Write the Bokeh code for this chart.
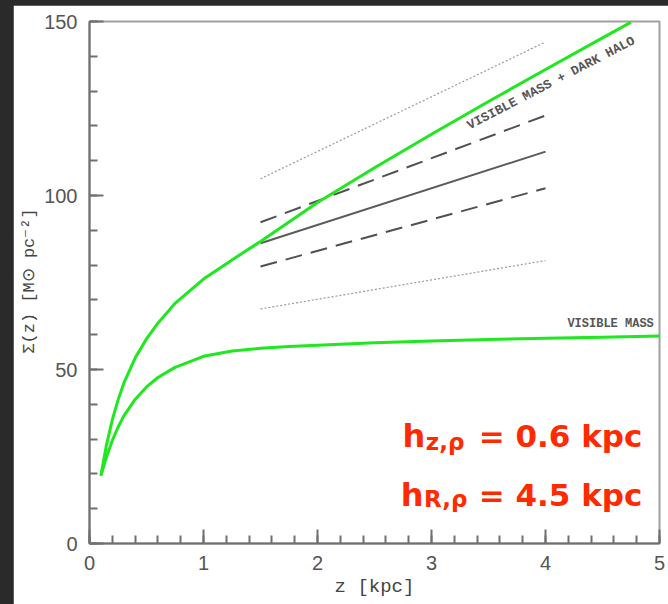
from bokeh.plotting import figure
from bokeh.models import Label, Column, SingleIntervalTicker
from bokeh.embed import file_html
from bokeh.resources import INLINE

# ---- data ----
z_vis = [0.1, 0.15, 0.2, 0.25, 0.3, 0.4, 0.5, 0.6, 0.75, 1.0, 1.25, 1.5, 1.75, 2.0, 2.5, 3.0, 3.5, 4.0, 4.5, 5.0]
sigma_vis = [19.5, 25.0, 29.6, 33.4, 36.6, 41.4, 45.0, 47.7, 50.6, 53.8, 55.3, 56.1, 56.6, 57.0, 57.7, 58.2, 58.6, 59.0, 59.3, 59.6]

z_tot = [0.1, 0.15, 0.2, 0.25, 0.3, 0.4, 0.5, 0.6, 0.75, 1.0, 1.25, 1.5, 1.75, 2.0, 2.5, 3.0, 3.5, 4.0, 4.5, 4.75]
sigma_tot = [19.5, 28.5, 35.5, 41.2, 46.0, 53.3, 58.8, 63.3, 69.0, 76.0, 81.5, 86.8, 92.4, 98.0, 108.0, 117.6, 127.0, 136.2, 145.3, 149.8]

z_fit = [1.5, 4.0]
fit_top_dotted = [104.8, 144.1]
fit_upper_dashed = [92.3, 123.0]
fit_solid = [86.3, 112.6]
fit_lower_dashed = [79.6, 102.1]
fit_bottom_dotted = [67.4, 81.3]

x_label = "z [kpc]"
y_label = "\u03a3(z) [M\u2299 pc\u207b\u00b2]"

GREEN = "#1ee81e"
RED = "#ff2a00"

p = figure(frame_width=570, frame_height=522, x_range=(0, 5), y_range=(0, 150),
           output_backend="svg", toolbar_location=None,
           min_border_left=76, min_border_right=9, min_border_top=16, min_border_bottom=61,
           margin=(5, 0, 0, 13))
p.background_fill_color = "white"
p.border_fill_color = "white"
p.outline_line_color = "#a0a0a0"
p.outline_line_width = 2
p.grid.visible = False

# fit lines
p.line(z_fit, fit_top_dotted, line_color="#9a9a9a", line_width=1.2, line_dash="2 2")
p.line(z_fit, fit_bottom_dotted, line_color="#9a9a9a", line_width=1.2, line_dash="2 2")
p.line(z_fit, fit_upper_dashed, line_color="#505050", line_width=2, line_dash="17 9")
p.line(z_fit, fit_lower_dashed, line_color="#505050", line_width=2, line_dash="17 9")
p.line(z_fit, fit_solid, line_color="#5a5a5a", line_width=2)

# curves
p.line(z_vis, sigma_vis, line_color=GREEN, line_width=3, line_join="round")
p.line(z_tot, sigma_tot, line_color=GREEN, line_width=3, line_join="round")

# axes
for ax in (p.xaxis[0], p.yaxis[0]):
    ax.axis_line_color = "#707070"
    ax.axis_line_width = 2
    ax.major_tick_line_color = "#707070"
    ax.minor_tick_line_color = "#707070"
    ax.major_tick_line_width = 2
    ax.minor_tick_line_width = 2
    ax.major_tick_in = 14
    ax.major_tick_out = 0
    ax.minor_tick_in = 8
    ax.minor_tick_out = 0
    ax.major_label_text_font = "Liberation Sans"
    ax.major_label_text_font_size = "20px"
    ax.major_label_text_color = "#555555"
    ax.major_label_standoff = 12
    ax.axis_label_text_font = "Liberation Mono"
    ax.axis_label_text_font_style = "normal"
    ax.axis_label_text_color = "#444444"

p.xaxis.ticker = SingleIntervalTicker(interval=1, num_minor_ticks=5)
p.yaxis.ticker = SingleIntervalTicker(interval=50, num_minor_ticks=5)
p.xaxis.axis_label = x_label
p.yaxis.axis_label = y_label
p.xaxis.axis_label_text_font_size = "19px"
p.yaxis.axis_label_text_font_size = "17px"
p.xaxis.axis_label_standoff = 3
p.yaxis.axis_label_standoff = 2

# curve annotations
p.add_layout(Label(x=4.05, y=132.3, text="VISIBLE MASS + DARK HALO", angle=0.48,
                   text_align="center", text_baseline="middle",
                   text_font="Liberation Mono", text_font_style="bold",
                   text_font_size="13px", text_color="#555555"))
p.add_layout(Label(x=4.95, y=63.2, text="VISIBLE MASS",
                   text_align="right", text_baseline="middle",
                   text_font="Liberation Mono", text_font_style="bold",
                   text_font_size="12px", text_color="#555555"))

# red parameter texts
def red(x, y, t, size, align="left"):
    p.add_layout(Label(x=x, y=y, text=t, text_align=align, text_baseline="alphabetic",
                       text_font="DejaVu Sans", text_font_style="bold",
                       text_font_size=size, text_color=RED))

red(2.745, 31.0, "h", "32px")
red(2.95, 29.3, "z,\u03c1", "23px")
red(4.85, 31.0, "= 0.6 kpc", "31px", "right")
red(2.73, 13.8, "h", "32px")
red(2.935, 12.8, "R,\u03c1", "23px")
red(4.85, 13.8, "= 4.5 kpc", "31px", "right")

page = Column(p, styles={"background-color": "#2a2a2a"})
open("out.html", "w").write(file_html(page, INLINE))
